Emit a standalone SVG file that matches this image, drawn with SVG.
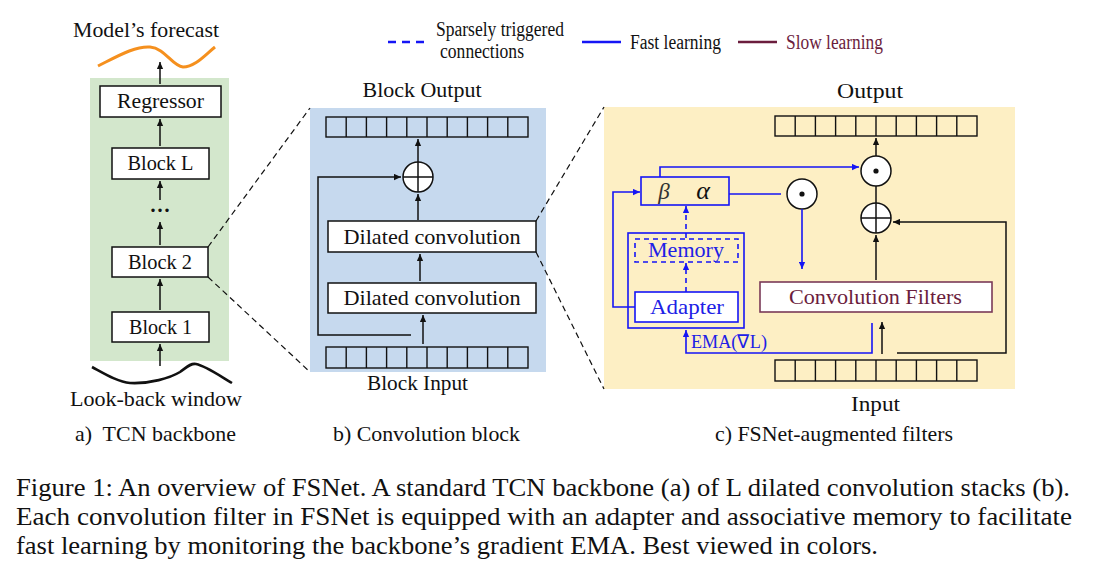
<svg xmlns="http://www.w3.org/2000/svg" width="1096" height="572" viewBox="0 0 1096 572">
<style>
text{font-family:"Liberation Serif","Times New Roman",serif;fill:#111}
.lbl{font-size:21px;text-anchor:middle}
.cap{font-size:25px}
.box{fill:#fff;stroke:#111;stroke-width:1.5}
.ln{fill:none;stroke:#111;stroke-width:1.5}
.bl{fill:none;stroke:#1515f5;stroke-width:1.6}
.bd{fill:none;stroke:#1515f5;stroke-width:1.6;stroke-dasharray:5,4}
.bt{fill:#2020e6}
.cells{fill:none;stroke:#111;stroke-width:1.4}
.zoom{fill:none;stroke:#111;stroke-width:1.2;stroke-dasharray:6,4}
.circ{fill:#fff;stroke:#111;stroke-width:1.5}
</style>
<defs>
<marker id="ak" viewBox="0 0 10 10" refX="10" refY="5" markerWidth="8" markerHeight="7" markerUnits="userSpaceOnUse" orient="auto"><path d="M0,0.5 L10,5 L0,9.5 z" fill="#111"/></marker>
<marker id="ab" viewBox="0 0 10 10" refX="10" refY="5" markerWidth="8" markerHeight="7" markerUnits="userSpaceOnUse" orient="auto"><path d="M0,0.5 L10,5 L0,9.5 z" fill="#1515f5"/></marker>
</defs>
<rect width="1096" height="572" fill="#fff"/>

<!-- backgrounds -->
<rect x="90" y="78" width="139" height="283" fill="#d3e7cc"/>
<rect x="310" y="108" width="236" height="264" fill="#c6d9ee"/>
<rect x="604" y="107" width="411" height="282" fill="#fdefc4"/>

<!-- legend -->
<g id="legend">
<line x1="388" y1="42" x2="424" y2="42" stroke="#1515f5" stroke-width="2.4" stroke-dasharray="8,6"/>
<text x="436" y="36" font-size="20" textLength="128" lengthAdjust="spacingAndGlyphs">Sparsely triggered</text>
<text x="440" y="58" font-size="20" textLength="84" lengthAdjust="spacingAndGlyphs">connections</text>
<line x1="582" y1="42" x2="621" y2="42" stroke="#1515f5" stroke-width="2.4"/>
<text x="630" y="49" font-size="20" textLength="91" lengthAdjust="spacingAndGlyphs">Fast learning</text>
<line x1="738" y1="42" x2="777" y2="42" stroke="#6b1d3d" stroke-width="2.4"/>
<text x="786" y="49" font-size="20" textLength="97" lengthAdjust="spacingAndGlyphs" style="fill:#6b1d3d">Slow learning</text>
</g>

<!-- panel a -->
<g id="forecast">
<text x="146" y="37" class="lbl" textLength="146" lengthAdjust="spacingAndGlyphs">Model’s forecast</text>
<path d="M98,66 C118,56 135,46 150,47 C165,48 172,66 183,67 C195,67 205,55 215,47" fill="none" stroke="#f5901e" stroke-width="3"/>
</g>
<g id="regressor"><rect x="100" y="86" width="121" height="31" class="box"/><text x="160.5" y="108" class="lbl" textLength="87" lengthAdjust="spacingAndGlyphs">Regressor</text></g>
<g id="blockL"><rect x="112" y="148" width="97" height="31" class="box"/><text x="160.5" y="170" class="lbl" textLength="66" lengthAdjust="spacingAndGlyphs">Block L</text></g>
<g id="dots"><text x="160" y="217" class="lbl" font-weight="bold" font-size="20">···</text></g>
<g id="block2"><rect x="112" y="247" width="96" height="30" class="box"/><text x="160" y="269" class="lbl" textLength="64" lengthAdjust="spacingAndGlyphs">Block 2</text></g>
<g id="block1"><rect x="112" y="312" width="97" height="30" class="box"/><text x="160.5" y="334" class="lbl" textLength="63" lengthAdjust="spacingAndGlyphs">Block 1</text></g>
<g id="lookback">
<path d="M92,367 C105,374 118,382 130,383 C150,384 170,378 180,372 C186,368 190,363 196,364 C206,366 220,376 232,383" fill="none" stroke="#111" stroke-width="2.6"/>
<text x="156" y="406" class="lbl" textLength="172" lengthAdjust="spacingAndGlyphs">Look-back window</text>
</g>
<text x="155.5" y="441" class="lbl" textLength="161" lengthAdjust="spacingAndGlyphs" xml:space="preserve">a)  TCN backbone</text>

<!-- panel b -->
<text x="422" y="97" class="lbl" textLength="119" lengthAdjust="spacingAndGlyphs">Block Output</text>
<g id="blockOutputRow"><rect x="326" y="117" width="202" height="20" class="cells"/><path class="cells" d="M346.2,117v20M366.4,117v20M386.6,117v20M406.8,117v20M427,117v20M447.2,117v20M467.4,117v20M487.6,117v20M507.8,117v20"/></g>
<g id="plusB"><circle cx="418" cy="177" r="15" class="circ"/><path d="M403,177h30M418,162v30" class="ln"/></g>
<g id="dilated2"><rect x="328" y="221" width="208" height="31" class="box"/><text x="432" y="244" class="lbl" textLength="177" lengthAdjust="spacingAndGlyphs">Dilated convolution</text></g>
<g id="dilated1"><rect x="328" y="283" width="208" height="30" class="box"/><text x="432" y="305" class="lbl" textLength="177" lengthAdjust="spacingAndGlyphs">Dilated convolution</text></g>
<g id="blockInputRow"><rect x="326" y="347" width="202" height="21" class="cells"/><path class="cells" d="M346.2,347v21M366.4,347v21M386.6,347v21M406.8,347v21M427,347v21M447.2,347v21M467.4,347v21M487.6,347v21M507.8,347v21"/></g>
<text x="417.5" y="390" class="lbl" textLength="101" lengthAdjust="spacingAndGlyphs">Block Input</text>
<text x="426.5" y="441" class="lbl" textLength="187" lengthAdjust="spacingAndGlyphs">b) Convolution block</text>

<!-- panel c -->
<text x="870" y="98" class="lbl" textLength="66" lengthAdjust="spacingAndGlyphs">Output</text>
<g id="outputRow"><rect x="775" y="116" width="202" height="20" class="cells"/><path class="cells" d="M795.2,116v20M815.4,116v20M835.6,116v20M855.8,116v20M876,116v20M896.2,116v20M916.4,116v20M936.6,116v20M956.8,116v20"/></g>
<g id="dotTop"><circle cx="876" cy="171" r="15" class="circ"/><circle cx="876" cy="171" r="2.6" fill="#111"/></g>
<g id="plusC"><circle cx="876" cy="218" r="15" class="circ"/><path d="M861,218h30M876,203v30" class="ln"/></g>
<g id="dotMid"><circle cx="802" cy="194" r="15" class="circ"/><circle cx="802" cy="194" r="2.6" fill="#111"/></g>
<g id="betaAlpha"><rect x="641" y="177" width="88" height="28" fill="#fdefc4" stroke="#1515f5" stroke-width="1.6"/>
<text x="664" y="199" font-size="23" font-style="italic" text-anchor="middle" style="fill:#333">β</text>
<text x="703" y="199" font-size="26" font-style="italic" text-anchor="middle">α</text></g>
<g id="adapterMemory"><rect x="628" y="233" width="116" height="95" fill="none" stroke="#1515f5" stroke-width="1.6"/></g>
<g id="memory"><rect x="635" y="239" width="103" height="23" class="bd"/><text x="686" y="257" class="lbl bt" textLength="76" lengthAdjust="spacingAndGlyphs">Memory</text></g>
<g id="adapter"><rect x="635" y="292" width="103" height="30" fill="#fff" stroke="#1515f5" stroke-width="1.6"/><text x="687" y="314" class="lbl bt" textLength="74" lengthAdjust="spacingAndGlyphs">Adapter</text></g>
<g id="convFilters"><rect x="760" y="282" width="232" height="30" fill="#fff" stroke="#7a3a58" stroke-width="1.6"/><text x="875.5" y="304" class="lbl" textLength="173" lengthAdjust="spacingAndGlyphs" style="fill:#6b1d3d">Convolution Filters</text></g>
<g id="inputRow"><rect x="775" y="360" width="202" height="21" class="cells"/><path class="cells" d="M795.2,360v21M815.4,360v21M835.6,360v21M855.8,360v21M876,360v21M896.2,360v21M916.4,360v21M936.6,360v21M956.8,360v21"/></g>
<text x="875.5" y="411" class="lbl" textLength="49" lengthAdjust="spacingAndGlyphs">Input</text>
<text x="834" y="441" class="lbl" textLength="238" lengthAdjust="spacingAndGlyphs">c) FSNet-augmented filters</text>
<text x="691" y="348" font-size="19" textLength="76" lengthAdjust="spacingAndGlyphs" class="bt">EMA(∇L)</text>

<!-- connectors -->
<g id="connectors">
<line x1="160" y1="84" x2="160" y2="62" class="ln" marker-end="url(#ak)"/>
<line x1="160" y1="146" x2="160" y2="119" class="ln" marker-end="url(#ak)"/>
<line x1="160" y1="200" x2="160" y2="181" class="ln" marker-end="url(#ak)"/>
<line x1="160" y1="245" x2="160" y2="222" class="ln" marker-end="url(#ak)"/>
<line x1="160" y1="310" x2="160" y2="279" class="ln" marker-end="url(#ak)"/>
<line x1="160" y1="366" x2="160" y2="344" class="ln" marker-end="url(#ak)"/>
<line x1="208" y1="247" x2="310" y2="108" class="zoom"/>
<line x1="208" y1="277" x2="310" y2="372" class="zoom"/>
<line x1="536" y1="221" x2="604" y2="107" class="zoom"/>
<line x1="536" y1="252" x2="604" y2="389" class="zoom"/>
<line x1="418" y1="162" x2="418" y2="139" class="ln" marker-end="url(#ak)"/>
<line x1="418" y1="220" x2="418" y2="194" class="ln" marker-end="url(#ak)"/>
<line x1="420" y1="281" x2="420" y2="254" class="ln" marker-end="url(#ak)"/>
<line x1="423" y1="344" x2="423" y2="315" class="ln" marker-end="url(#ak)"/>
<path d="M411,335 H318 V177 H401" class="ln" marker-end="url(#ak)"/>
<line x1="876" y1="156" x2="876" y2="138" class="ln" marker-end="url(#ak)"/>
<line x1="876" y1="186" x2="876" y2="203" class="ln"/>
<line x1="876" y1="280" x2="876" y2="235" class="ln" marker-end="url(#ak)"/>
<line x1="882" y1="354" x2="882" y2="322" class="ln" marker-end="url(#ak)"/>
<path d="M897,353 H1006 V222 H893" class="ln" marker-end="url(#ak)"/>
<path d="M660,177 V167 H859" class="bl" marker-end="url(#ab)"/>
<line x1="729" y1="194" x2="781" y2="194" class="bl"/>
<line x1="802" y1="209" x2="802" y2="269" class="bl" marker-end="url(#ab)"/>
<path d="M635,307 H613 V192 H640" class="bl" marker-end="url(#ab)"/>
<line x1="686" y1="238" x2="686" y2="206" class="bd" marker-end="url(#ab)"/>
<line x1="686" y1="292" x2="686" y2="263" class="bd" marker-end="url(#ab)"/>
<path d="M872,323 V353 H686 V330" class="bl" marker-end="url(#ab)"/>
</g>

<!-- caption -->
<g id="caption">
<text x="16" y="496" class="cap" textLength="1054" lengthAdjust="spacingAndGlyphs">Figure 1: An overview of FSNet. A standard TCN backbone (a) of L dilated convolution stacks (b).</text>
<text x="16" y="525" class="cap" textLength="1056" lengthAdjust="spacingAndGlyphs">Each convolution filter in FSNet is equipped with an adapter and associative memory to facilitate</text>
<text x="16" y="554" class="cap" textLength="862" lengthAdjust="spacingAndGlyphs">fast learning by monitoring the backbone’s gradient EMA. Best viewed in colors.</text>
</g>
</svg>
